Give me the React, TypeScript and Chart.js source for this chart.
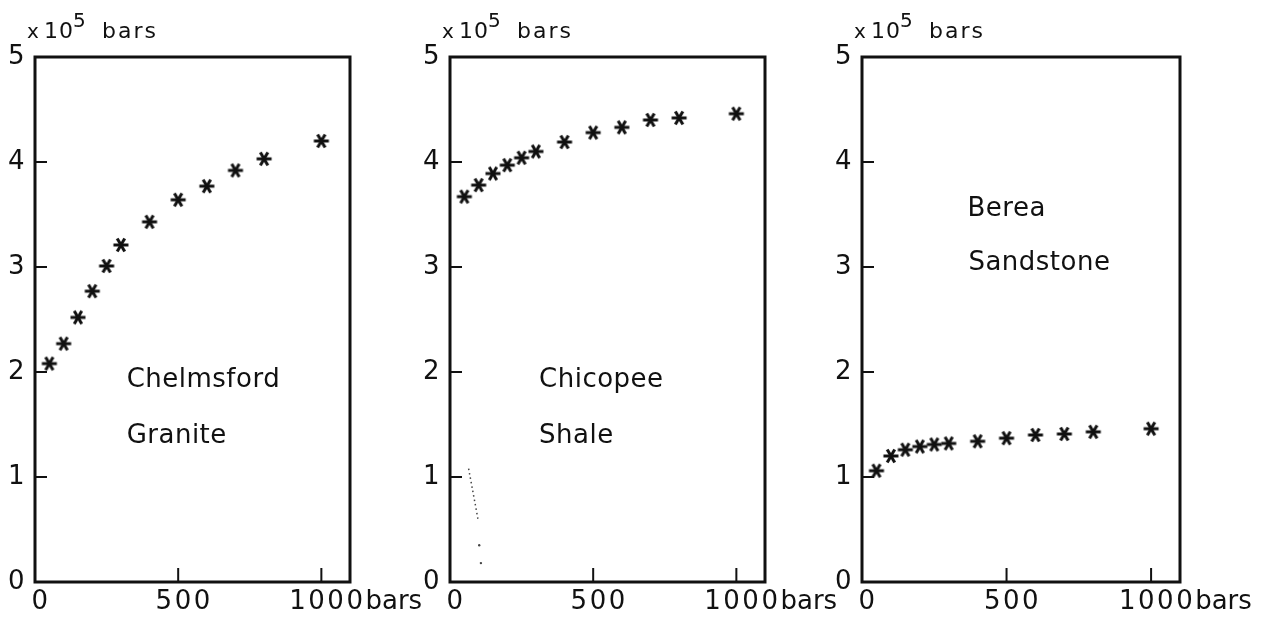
import { useEffect, useRef } from "react";
import { Chart, registerables } from "chart.js";

Chart.register(...registerables);

// ---- data ----
const pressures = [50, 100, 150, 200, 250, 300, 400, 500, 600, 700, 800, 1000];
const graniteValues = [2.08, 2.27, 2.52, 2.77, 3.01, 3.21, 3.43, 3.64, 3.77, 3.92, 4.03, 4.2];
const shaleValues = [3.67, 3.78, 3.89, 3.97, 4.04, 4.1, 4.19, 4.28, 4.33, 4.4, 4.42, 4.46];
const sandstoneValues = [1.06, 1.2, 1.26, 1.29, 1.31, 1.32, 1.34, 1.37, 1.4, 1.41, 1.43, 1.46];
const shaleTraceX = [65, 99];
const shaleTraceY = [1.08, 0.58];
const shaleDotsX = [102, 108];
const shaleDotsY = [0.35, 0.18];

const xTickValues = [0, 500, 1000];
const xTickLabels = ["0", "500", "1000"];
const yTickValues = [0, 1, 2, 3, 4, 5];
const yTickLabels = ["0", "1", "2", "3", "4", "5"];
const xUnit = "bars";
const yUnitPrefix = "x";
const yUnitBase = "10";
const yUnitExp = "5";
const yUnitName = "bars";

const graniteNames = ["Chelmsford", "Granite"];
const shaleNames = ["Chicopee", "Shale"];
const sandstoneNames = ["Berea", "Sandstone"];

// ---- layout / style ----
const FONT = '"DejaVu Sans", sans-serif';
const H = 622;
const TOP = 57;
const BOTTOM = 582;
const X_LABEL_SHIFT = 6;

type PanelCfg = {
  canvasLeft: number;
  canvasWidth: number;
  areaLeft: number;
  areaRight: number;
  values: number[];
  names: string[];
  nameAnchors: [number, number][];
  trace?: boolean;
};

const panels: PanelCfg[] = [
  {
    canvasLeft: 0,
    canvasWidth: 440,
    areaLeft: 35,
    areaRight: 350,
    values: graniteValues,
    names: graniteNames,
    nameAnchors: [
      [320, 1.86],
      [320, 1.32],
    ],
  },
  {
    canvasLeft: 420,
    canvasWidth: 440,
    areaLeft: 450,
    areaRight: 765,
    values: shaleValues,
    names: shaleNames,
    nameAnchors: [
      [311, 1.86],
      [311, 1.32],
    ],
    trace: true,
  },
  {
    canvasLeft: 800,
    canvasWidth: 467,
    areaLeft: 862,
    areaRight: 1180,
    values: sandstoneValues,
    names: sandstoneNames,
    nameAnchors: [
      [365, 3.49],
      [368, 2.97],
    ],
  },
];

function makeStar(): HTMLCanvasElement {
  const c = document.createElement("canvas");
  const s = 20;
  c.width = s;
  c.height = s;
  const g = c.getContext("2d")!;
  g.strokeStyle = "#111";
  g.lineWidth = 3;
  g.lineCap = "butt";
  const r = 7.5;
  const cx = s / 2;
  const cy = s / 2;
  for (const a of [0, Math.PI / 3, (2 * Math.PI) / 3]) {
    g.beginPath();
    g.moveTo(cx - r * Math.cos(a), cy - r * Math.sin(a));
    g.lineTo(cx + r * Math.cos(a), cy + r * Math.sin(a));
    g.stroke();
  }
  return c;
}

const framePlugin = {
  id: "frame",
  beforeDraw(chart: any) {
    (chart.ctx as any).letterSpacing = "2.5px";
  },
  afterDraw(chart: any, _args: any, opts: any) {
    const ctx = chart.ctx as CanvasRenderingContext2D & { letterSpacing?: string };
    const { left, top, right, bottom } = chart.chartArea;
    const xs = chart.scales.x;
    const ys = chart.scales.y;
    ctx.save();
    ctx.strokeStyle = "#111";
    ctx.fillStyle = "#111";
    ctx.lineWidth = 3;
    ctx.strokeRect(left, top, right - left, bottom - top);

    // inward tick marks
    ctx.lineWidth = 2;
    ctx.beginPath();
    for (const v of yTickValues) {
      if (v <= ys.min || v >= ys.max) continue;
      const py = ys.getPixelForValue(v);
      ctx.moveTo(left, py);
      ctx.lineTo(left + 12, py);
    }
    for (const v of xTickValues) {
      if (v <= xs.min) continue;
      const px = xs.getPixelForValue(v);
      ctx.moveTo(px, bottom);
      ctx.lineTo(px, bottom - 14);
    }
    ctx.stroke();

    // unit after the last x tick label
    ctx.font = `26px ${FONT}`;
    ctx.letterSpacing = "2.5px";
    const lastV = xTickValues[xTickValues.length - 1];
    const lastLabel = xTickLabels[xTickLabels.length - 1];
    const w = ctx.measureText(lastLabel).width;
    ctx.letterSpacing = "0px";
    ctx.textAlign = "left";
    ctx.textBaseline = "middle";
    const labelY = xs.top + 5 + (26 * 1.2) / 2;
    ctx.fillText(xUnit, xs.getPixelForValue(lastV) + X_LABEL_SHIFT + w / 2, labelY);

    // y unit title: x10^5 bars
    ctx.textBaseline = "alphabetic";
    const base = top - 19;
    ctx.letterSpacing = "0px";
    ctx.font = `20px ${FONT}`;
    ctx.fillText(yUnitPrefix, left - 8, base);
    ctx.letterSpacing = "1px";
    ctx.font = `22px ${FONT}`;
    ctx.fillText(yUnitBase, left + 9, base);
    ctx.font = `20px ${FONT}`;
    ctx.fillText(yUnitExp, left + 38, base - 11);
    ctx.letterSpacing = "2px";
    ctx.font = `22px ${FONT}`;
    ctx.fillText(yUnitName, left + 67, base);

    // rock names
    ctx.font = `26px ${FONT}`;
    ctx.letterSpacing = "0.5px";
    const names: string[] = opts.names || [];
    const anchors: [number, number][] = opts.anchors || [];
    names.forEach((n, i) => {
      const [ax, ay] = anchors[i];
      ctx.fillText(n, xs.getPixelForValue(ax), ys.getPixelForValue(ay));
    });
    ctx.restore();
  },
};

function Panel({ cfg }: { cfg: PanelCfg }) {
  const ref = useRef<HTMLCanvasElement>(null);
  useEffect(() => {
    const star = makeStar();
    const datasets: any[] = [
      {
        type: "scatter",
        data: pressures.map((x, i) => ({ x, y: cfg.values[i] })),
        pointStyle: star,
        pointRadius: 8,
        showLine: false,
      },
    ];
    if (cfg.trace) {
      datasets.push({
        type: "line",
        data: shaleTraceX.map((x, i) => ({ x, y: shaleTraceY[i] })),
        borderColor: "#444",
        borderWidth: 1.5,
        borderDash: [1.5, 3],
        pointRadius: 0,
        fill: false,
      });
      datasets.push({
        type: "scatter",
        data: shaleDotsX.map((x, i) => ({ x, y: shaleDotsY[i] })),
        pointRadius: 1.2,
        backgroundColor: "#444",
        borderColor: "#444",
        borderWidth: 0,
      });
    }
    const chart = new Chart(ref.current!, {
      type: "scatter",
      data: { datasets },
      plugins: [framePlugin],
      options: {
        animation: false,
        responsive: false,
        devicePixelRatio: 1,
        layout: {
          padding: {
            left: 0,
            top: TOP,
            right: cfg.canvasLeft + cfg.canvasWidth - cfg.areaRight,
            bottom: 0,
          },
        },
        plugins: {
          legend: { display: false },
          tooltip: { enabled: false },
          frame: { names: cfg.names, anchors: cfg.nameAnchors },
        } as any,
        scales: {
          x: {
            type: "linear",
            min: 0,
            max: 1100,
            grid: { display: false, drawTicks: false },
            border: { display: false },
            ticks: {
              color: "#111",
              font: { family: FONT, size: 26 },
              padding: 5,
              labelOffset: X_LABEL_SHIFT,
              maxRotation: 0,
              autoSkip: false,
              callback: (v: any) => {
                const i = xTickValues.indexOf(Number(v));
                return i >= 0 ? xTickLabels[i] : "";
              },
            },
            afterBuildTicks: (s: any) => {
              s.ticks = xTickValues.map((value) => ({ value }));
            },
            afterFit: (s: any) => {
              s.height = H - BOTTOM;
            },
          },
          y: {
            type: "linear",
            min: 0,
            max: 5,
            grid: { display: false, drawTicks: false },
            border: { display: false },
            ticks: {
              color: "#111",
              font: { family: FONT, size: 26 },
              padding: 8,
              autoSkip: false,
              callback: (v: any) => {
                const i = yTickValues.indexOf(Number(v));
                return i >= 0 ? yTickLabels[i] : "";
              },
            },
            afterBuildTicks: (s: any) => {
              s.ticks = yTickValues.map((value) => ({ value }));
            },
            afterFit: (s: any) => {
              s.width = cfg.areaLeft - cfg.canvasLeft;
            },
          },
        },
      } as any,
    });
    return () => chart.destroy();
  }, [cfg]);
  return (
    <canvas
      ref={ref}
      width={cfg.canvasWidth}
      height={H}
      style={{
        position: "absolute",
        left: cfg.canvasLeft,
        top: 0,
        width: cfg.canvasWidth,
        height: H,
      }}
    />
  );
}

export default function App() {
  return (
    <div
      style={{
        position: "absolute",
        left: 0,
        top: 0,
        width: 1267,
        height: H,
        background: "#fff",
        overflow: "hidden",
      }}
    >
      {panels.map((p, i) => (
        <Panel key={i} cfg={p} />
      ))}
    </div>
  );
}
